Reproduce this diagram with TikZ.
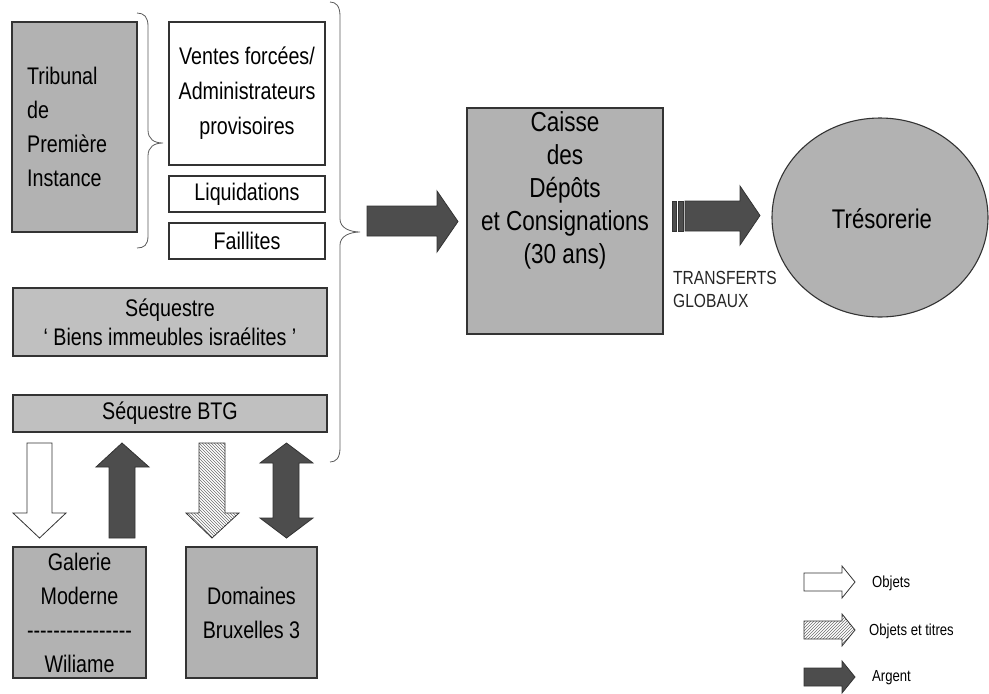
\documentclass[tikz,border=0pt]{standalone}
\usepackage{fontspec}
\setmainfont[FakeStretch=0.82]{Liberation Sans}
\usetikzlibrary{patterns,shapes.geometric}
\definecolor{boxgray}{RGB}{178,178,178}
\definecolor{seqgray}{RGB}{192,192,192}
\definecolor{darkarrow}{RGB}{77,77,77}
\definecolor{edgecol}{RGB}{51,51,51}
\definecolor{bracecol}{RGB}{90,90,90}
\definecolor{hatchcol}{RGB}{110,110,110}
\tikzset{
  box/.style={draw=edgecol, line width=1.1pt, inner sep=0pt, align=center,
    font=\fontsize{24}{34}\selectfont},
  txt/.style={inner sep=0pt, font=\fontsize{24}{34}\selectfont},
  darkarr/.style={draw=edgecol, line width=0.8pt, fill=darkarrow},
  whitearr/.style={draw=edgecol, line width=0.8pt, fill=white},
  hatcharr/.style={draw=edgecol, line width=0.8pt, fill=white, pattern color=hatchcol},
  bracestyle/.style={draw=bracecol, line width=0.8pt},
  legtxt/.style={inner sep=0pt, anchor=west, font=\fontsize{16}{20}\selectfont},
}
\begin{document}
\begin{tikzpicture}[x=1pt, y=-1pt]
\useasboundingbox (0,0) rectangle (989,694);

% left column boxes
\node[box, fill=boxgray, minimum width=125pt, minimum height=210pt] (trib) at (74.5,127) {};
\node[txt, anchor=west, align=left] (tribt) at (27,127) {Tribunal\\de\\Première\\Instance};

\node[box, fill=white, minimum width=156pt, minimum height=143pt,
  font=\fontsize{24}{35}\selectfont] (ventes) at (247,93.5) {Ventes forcées/\\Administrateurs\\provisoires};
\node[box, fill=white, minimum width=156pt, minimum height=36pt] (liqu) at (247,194) {Liquidations};
\node[box, fill=white, minimum width=156pt, minimum height=36pt] (faill) at (247,241) {Faillites};

\node[box, fill=seqgray, minimum width=314pt, minimum height=68pt,
  font=\fontsize{24}{29}\selectfont] (seq) at (170,322) {Séquestre\\‘ Biens immeubles israélites ’};
\node[box, fill=seqgray, minimum width=314pt, minimum height=37pt] (btg) at (170,413.5) {Séquestre BTG};

\node[box, fill=boxgray, minimum width=133pt, minimum height=131pt] (galerie) at (79.5,612.5)
  {Galerie\\Moderne\\{-}{-}{-}{-}{-}{-}{-}{-}{-}{-}{-}{-}{-}{-}{-}{-}\\Wiliame};
\node[box, fill=boxgray, minimum width=131pt, minimum height=131pt] (domaines) at (251.5,612.5)
  {Domaines\\Bruxelles 3};

% braces
\draw[bracestyle] (137,13) .. controls (144,13) and (148,17) .. (148,26) -- (148,130)
  .. controls (148,139) and (154,143) .. (163,143)
  .. controls (154,143) and (148,147) .. (148,156) -- (148,236)
  .. controls (148,245) and (144,248) .. (137,248);
\draw[bracestyle] (330,2) .. controls (336,2) and (340,6) .. (340,16) -- (340,219)
  .. controls (340,228) and (350,232) .. (360,232)
  .. controls (350,232) and (340,236) .. (340,245) -- (340,448)
  .. controls (340,458) and (336,462) .. (330,462);

% vertical arrows between BTG and bottom boxes
\draw[whitearr] (27,443) -- (52,443) -- (52,513) -- (66,513) -- (39.5,538) -- (13,513) -- (27,513) -- cycle;
\draw[darkarr] (109,538) -- (135,538) -- (135,467) -- (149,467) -- (122,443) -- (96,467) -- (109,467) -- cycle;
\draw[hatcharr, pattern=north west lines] (199,443) -- (225,443) -- (225,513) -- (239,513) -- (212,538) -- (186,513) -- (199,513) -- cycle;
\draw[darkarr] (286.5,443) -- (313,463) -- (299,463) -- (299,518) -- (313,518) -- (286.5,538)
  -- (260,518) -- (273,518) -- (273,463) -- (260,463) -- cycle;

% Caisse
\node[box, fill=boxgray, minimum width=196pt, minimum height=226pt] (caisse) at (565,221) {};
\node[txt, align=center, font=\fontsize{27.5}{33}\selectfont] (caisset) at (565,190)
  {Caisse\\des\\Dépôts\\et Consignations\\(30 ans)};

% big arrow into Caisse
\draw[darkarr] (367,206) -- (437,206) -- (437,191) -- (458,221.5) -- (437,252) -- (437,236) -- (367,236) -- cycle;

% Trésorerie
\node[draw=edgecol, line width=1.1pt, fill=boxgray, ellipse, minimum width=216pt, minimum height=199pt,
  inner sep=0pt] (treso) at (880,217.5) {};
\node[txt, font=\fontsize{27}{32}\selectfont] (tresot) at (882,219) {Trésorerie};

% transfer arrow
\fill[darkarrow, draw=edgecol, line width=0.5pt] (672,201) rectangle (676,231);
\fill[darkarrow, draw=edgecol, line width=0.5pt] (678,201) rectangle (683,231);
\draw[darkarr] (685,201) -- (740,201) -- (740,186) -- (760,215.5) -- (740,245) -- (740,231) -- (685,231) -- cycle;
\node[inner sep=0pt, anchor=north west, align=left, text=black!85,
  font=\fontsize{19}{23}\selectfont] (transf) at (673,271) {TRANSFERTS\\GLOBAUX};

% legend
\draw[whitearr] (804,573) -- (842,573) -- (842,566) -- (855,582) -- (842,598) -- (842,591) -- (804,591) -- cycle;
\draw[hatcharr, pattern=north east lines] (804,621) -- (842,621) -- (842,614) -- (855,630) -- (842,646) -- (842,639) -- (804,639) -- cycle;
\draw[darkarr] (804,668) -- (842,668) -- (842,661) -- (855,677) -- (842,693) -- (842,686) -- (804,686) -- cycle;
\node[legtxt] (lobj) at (872,583) {Objets};
\node[legtxt] (lobjt) at (869,631) {Objets et titres};
\node[legtxt] (larg) at (872,678) {Argent};
\end{tikzpicture}
\end{document}
